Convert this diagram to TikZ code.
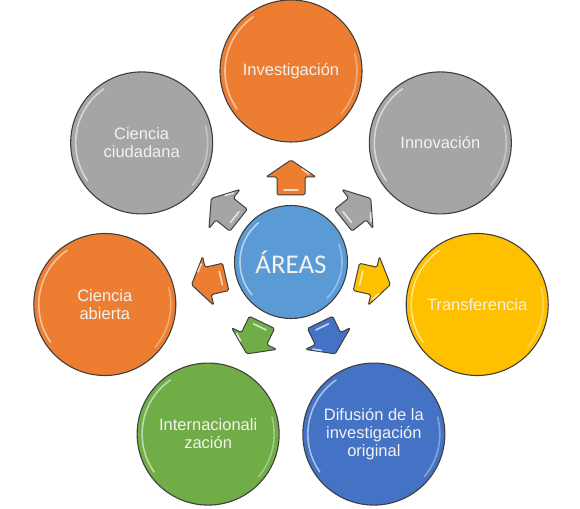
\documentclass[tikz,border=0pt]{standalone}
\usepackage{fontspec}
\newfontfamily\lblfont{Liberation Sans}
\newfontfamily\ctrfont{Carlito}
\definecolor{cOrange}{HTML}{ED7D31}
\definecolor{cGray}{HTML}{A5A5A5}
\definecolor{cYellow}{HTML}{FFC000}
\definecolor{cBlue}{HTML}{4472C4}
\definecolor{cGreen}{HTML}{70AD47}
\definecolor{cLight}{HTML}{5B9BD5}
\definecolor{edge}{HTML}{3F3F3F}
\definecolor{txt}{HTML}{F4F1EE}
\begin{document}
\begin{tikzpicture}[x=1pt,y=1pt,
  bubble/.style={circle, draw=edge, line width=1.1pt, minimum size=142pt, inner sep=0pt, align=center, text=txt, font=\lblfont\fontsize{16.5}{18}\selectfont},
  hub/.style={circle, draw=edge, line width=1.1pt, minimum size=113pt, inner sep=0pt, fill=cLight, text=txt, font=\ctrfont\fontsize{27}{30}\selectfont},
  gloss/.style={white, opacity=0.55, line width=1.6pt, line cap=round},
  arrowbody/.style={draw=edge, line width=1pt, rounded corners=1.5pt, line join=round},
  shine/.style={white, opacity=0.7, line width=1.6pt, line cap=round}]
\useasboundingbox (0,0) rectangle (580,508);
\fill[white] (0,0) rectangle (580,508);
\coordinate (C) at (291,246);
\node[hub] (hub) at (C) {ÁREAS};
\node[bubble, fill=cOrange] (inv) at ([shift={(90:191)}]C) {Investigación};
\node[bubble, fill=cGray] (ino) at ([shift={(38.57:191)}]C) {Innovación};
\node[bubble, fill=cYellow] (tra) at ([shift={(-12.86:191)}]C) {Transferencia};
\node[bubble, fill=cBlue] (dif) at ([shift={(-64.29:191)}]C) {Difusión de la\\investigación\\original};
\node[bubble, fill=cGreen] (int) at ([shift={(-115.71:191)}]C) {Internacionali\\zación};
\node[bubble, fill=cOrange] (abi) at ([shift={(-167.14:191)}]C) {Ciencia\\abierta};
\node[bubble, fill=cGray] (ciu) at ([shift={(141.43:191)}]C) {Ciencia\\ciudadana};
% gloss highlights on circles
\foreach \n in {inv,ino,tra,dif,int,abi,ciu}{
  \draw[gloss] ([shift={(125:66)}]\n.center) arc[start angle=125, end angle=215, radius=66];
  \draw[gloss, opacity=0.35] ([shift={(-40:66)}]\n.center) arc[start angle=-40, end angle=15, radius=66];
}
\draw[gloss] ([shift={(130:51)}]hub.center) arc[start angle=130, end angle=220, radius=51];
\draw[gloss, opacity=0.35] ([shift={(-45:51)}]hub.center) arc[start angle=-45, end angle=20, radius=51];
% block arrows
\foreach \a/\c in {90/cOrange, 38.57/cGray, -12.86/cYellow, -64.29/cBlue, -115.71/cGreen, -167.14/cOrange, 141.43/cGray}{
  \begin{scope}[shift={(C)}, rotate=\a]
    \draw[arrowbody, fill=\c] (67,-14) -- (85,-14) -- (85,-25) -- (102,0) -- (85,25) -- (85,14) -- (67,14) -- cycle;
    \draw[shine] (72,-7) -- (72,7);
    \draw[shine] (88,-18) -- (93,-11);
  \end{scope}
}
\end{tikzpicture}
\end{document}
